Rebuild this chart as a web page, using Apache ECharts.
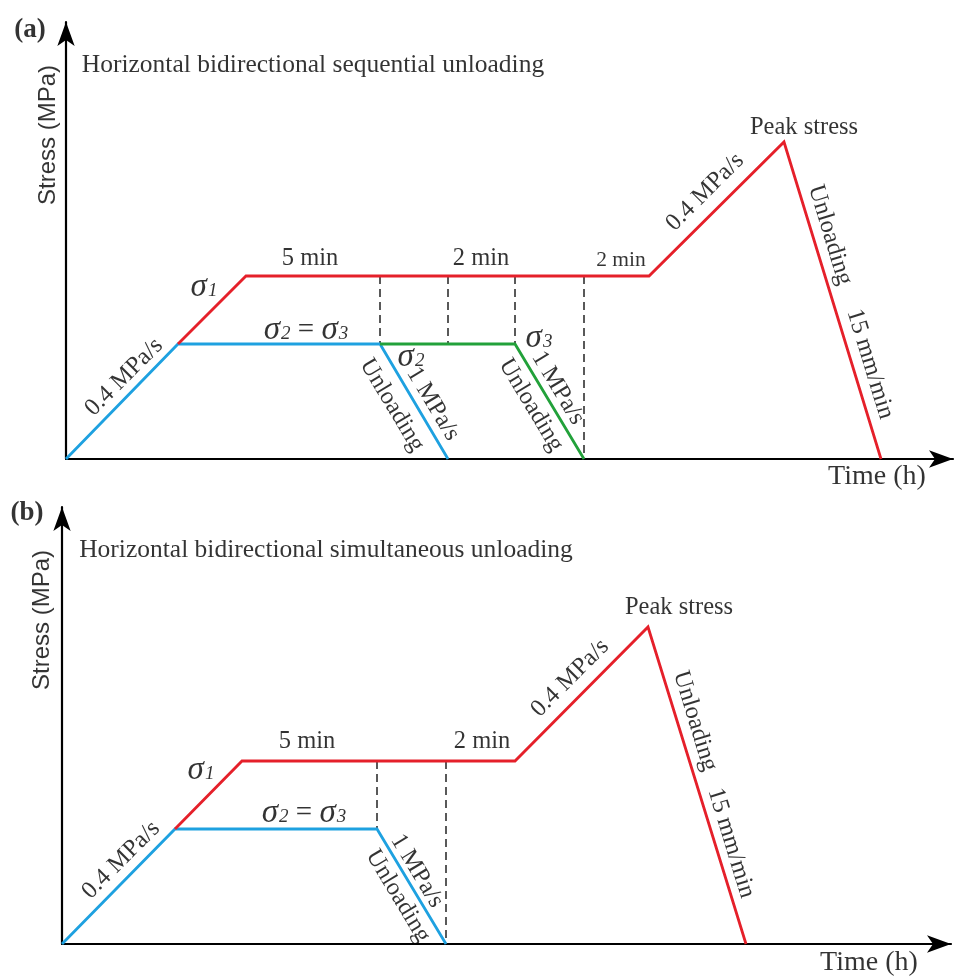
<!DOCTYPE html>
<html>
<head>
<meta charset="utf-8">
<script src="https://cdn.jsdelivr.net/npm/echarts@6/dist/echarts.min.js"></script>
<style>html,body{margin:0;padding:0;background:#fff;}#c{width:970px;height:979px;}</style>
</head>
<body>
<div id="c"></div>
<script>
// ---------- Panel (a): sequential unloading ----------
const aBlue  = [[0, 0], [11.2, 11.5], [31.4, 11.5], [38.2, 0]];
const aGreen = [[31.4, 11.5], [44.9, 11.5], [51.8, 0]];
const aRed   = [[11.2, 11.5], [18.0, 18.3], [58.3, 18.3], [71.8, 31.7], [81.5, 0]];
const aDash1 = [[31.4, 18.3], [31.4, 11.5]];
const aDash2 = [[38.2, 18.3], [38.2, 11.5]];
const aDash3 = [[44.9, 18.3], [44.9, 11.5]];
const aDash4 = [[51.8, 18.3], [51.8, 0]];

// ---------- Panel (b): simultaneous unloading ----------
const bBlue  = [[0, 0], [11.3, 11.5], [31.5, 11.5], [38.4, 0]];
const bRed   = [[11.3, 11.5], [18.0, 18.3], [45.3, 18.3], [58.6, 31.7], [68.4, 0]];
const bDash1 = [[31.5, 18.3], [31.5, 11.5]];
const bDash2 = [[38.4, 18.3], [38.4, 0]];

// ---------- Annotations: [x, y, text, rotation, style] ----------
const aNotes = [
  [-3.6, 42.9, '(a)', 0, 'panel'],
  [24.7, 39.4, 'Horizontal bidirectional sequential unloading', 0, 'title'],
  [-1.8, 32.4, 'Stress (MPa)', 90, 'axis'],
  [81.1, -1.8, 'Time (h)', 0, 'time'],
  [24.4, 20.0, '5 min', 0, 'txt'],
  [41.5, 20.0, '2 min', 0, 'txt'],
  [55.5, 19.9, '2 min', 0, 'small'],
  [73.8, 33.1, 'Peak stress', 0, 'txt'],
  [13.8, 17.2, '{s|σ}{n|1}', 0, 'sig'],
  [24.0, 12.9, '{s|σ}{n|2}{e| = }{s|σ}{n|3}', 0, 'sig'],
  [5.8, 8.2, '0.4 MPa/s', 45, 'txt'],
  [32.6, 5.4, 'Unloading', -59, 'txt'],
  [34.5, 10.2, '{s|σ}{n|2}', 0, 'sig'],
  [36.7, 5.5, '1 MPa/s', -59, 'txt'],
  [47.3, 12.1, '{s|σ}{n|3}', 0, 'sig'],
  [46.5, 5.4, 'Unloading', -59, 'txt'],
  [49.2, 7.1, '1 MPa/s', -59, 'txt'],
  [63.9, 26.7, '0.4 MPa/s', 45, 'txt'],
  [76.4, 22.4, 'Unloading', -73, 'txt'],
  [80.4, 9.5, '15 mm/min', -73, 'txt']
];
const bNotes = [
  [-3.5, 43.1, '(b)', 0, 'panel'],
  [26.4, 39.4, 'Horizontal bidirectional simultaneous unloading', 0, 'title'],
  [-2.0, 32.4, 'Stress (MPa)', 90, 'axis'],
  [80.7, -1.9, 'Time (h)', 0, 'time'],
  [24.5, 20.2, '5 min', 0, 'txt'],
  [42.0, 20.2, '2 min', 0, 'txt'],
  [61.7, 33.6, 'Peak stress', 0, 'txt'],
  [13.9, 17.4, '{s|σ}{n|1}', 0, 'sig'],
  [24.2, 13.1, '{s|σ}{n|2}{e| = }{s|σ}{n|3}', 0, 'sig'],
  [5.9, 8.4, '0.4 MPa/s', 45, 'txt'],
  [33.6, 4.8, 'Unloading', -59, 'txt'],
  [35.5, 7.3, '1 MPa/s', -59, 'txt'],
  [50.8, 26.6, '0.4 MPa/s', 45, 'txt'],
  [63.3, 22.3, 'Unloading', -73, 'txt'],
  [66.9, 10.1, '15 mm/min', -73, 'txt']
];

const SERIF = '"Liberation Serif", "Times New Roman", serif';
const SANS = '"Liberation Sans", Arial, sans-serif';
const RED = '#e5202a', BLUE = '#1ea1e0', GREEN = '#22a13a';
const INK = '#000';

const styles = {
  panel: { fontFamily: SERIF, fontSize: 27, fontWeight: 'bold', color: INK },
  title: { fontFamily: SERIF, fontSize: 25.5, color: INK },
  axis:  { fontFamily: SANS, fontSize: 24, color: INK },
  time:  { fontFamily: SERIF, fontSize: 28, color: INK },
  txt:   { fontFamily: SERIF, fontSize: 24.5, color: INK },
  small: { fontFamily: SERIF, fontSize: 21.5, color: INK },
  sig:   { fontFamily: SERIF, color: INK,
           rich: {
             s: { fontFamily: SERIF, fontStyle: 'italic', fontSize: 33, color: INK },
             n: { fontFamily: SERIF, fontStyle: 'italic', fontSize: 19, color: INK, padding: [8, 0, 0, 1] },
             e: { fontFamily: SERIF, fontSize: 29, color: INK }
           } }
};

function noteSeries(notes, idx) {
  return {
    type: 'scatter', xAxisIndex: idx, yAxisIndex: idx, symbolSize: 0, clip: false,
    silent: true, z: 10,
    data: notes.map(n => ({
      value: [n[0], n[1]],
      label: Object.assign({ show: true, position: 'inside', align: 'center', verticalAlign: 'middle',
        rotate: n[3], formatter: n[2] }, styles[n[4]])
    }))
  };
}
function lineS(data, idx, color) {
  return { type: 'line', xAxisIndex: idx, yAxisIndex: idx, data: data, showSymbol: false, symbol: 'none',
    lineStyle: { color: color, width: 2.8, cap: 'butt', join: 'miter' }, z: 5, silent: true };
}
function dashS(data, idx) {
  return { type: 'line', xAxisIndex: idx, yAxisIndex: idx, data: data, showSymbol: false, symbol: 'none',
    lineStyle: { color: '#222', width: 1.5, type: [8, 5] }, z: 3, silent: true };
}
function axisCommon(max) {
  return {
    type: 'value', min: 0, max: max,
    axisLine: { show: true, symbol: ['none', 'arrow'], symbolSize: [13, 24],
      lineStyle: { color: '#000', width: 2.2 } },
    axisTick: { show: false }, axisLabel: { show: false }, splitLine: { show: false }
  };
}

const chart = echarts.init(document.getElementById('c'), null, { renderer: 'canvas' });
chart.setOption({
  backgroundColor: '#fff',
  animation: false,
  grid: [
    { left: 66, top: 22, width: 887, height: 437 },
    { left: 62, top: 507, width: 889, height: 437 }
  ],
  xAxis: [Object.assign({ gridIndex: 0 }, axisCommon(88.7)), Object.assign({ gridIndex: 1 }, axisCommon(88.9))],
  yAxis: [Object.assign({ gridIndex: 0 }, axisCommon(43.7)), Object.assign({ gridIndex: 1 }, axisCommon(43.7))],
  series: [
    dashS(aDash1, 0), dashS(aDash2, 0), dashS(aDash3, 0), dashS(aDash4, 0),
    lineS(aBlue, 0, BLUE), lineS(aGreen, 0, GREEN), lineS(aRed, 0, RED),
    dashS(bDash1, 1), dashS(bDash2, 1),
    lineS(bBlue, 1, BLUE), lineS(bRed, 1, RED),
    noteSeries(aNotes, 0), noteSeries(bNotes, 1)
  ]
});
</script>
</body>
</html>
